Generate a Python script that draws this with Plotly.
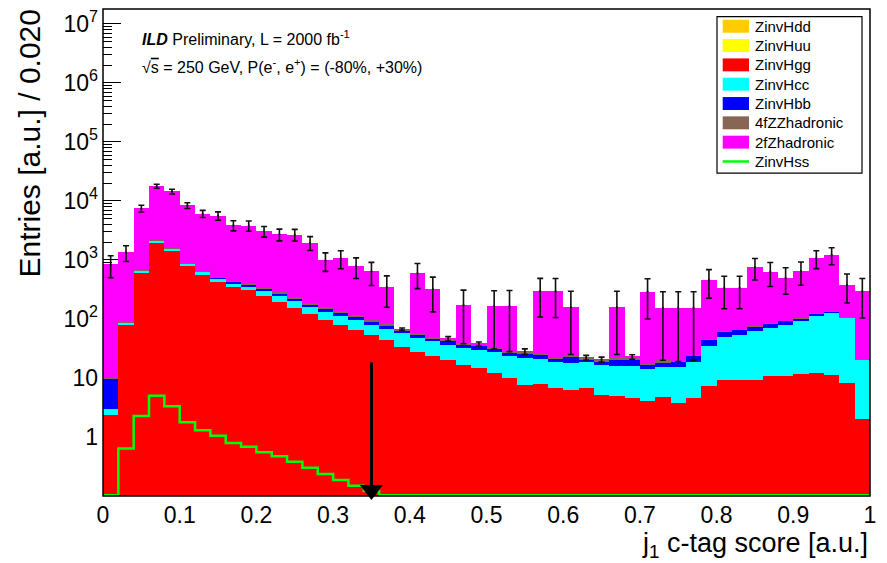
import numpy as np
import plotly.graph_objects as go

# ---------------- data (50 bins, width 0.02, x from 0 to 1) ----------------
X_MIN, X_MAX, N_BINS = 0.0, 1.0, 50

hdd = [0.001, 0.004, 0.02, 0.03, 0.025, 0.02, 0.015, 0.012, 0.01, 0.009,
       0.008, 0.007, 0.006, 0.005, 0.004, 0.004, 0.003, 0.003, 0.002, 0.002,
       0.002, 0.002, 0.001, 0.001, 0.001, 0.001, 0.001, 0.001, 0.001, 0.001,
       0.001, 0.001, 0.001, 0.001, 0.001, 0.001, 0.001, 0.001, 0.001, 0.001,
       0.001, 0.001, 0.001, 0.001, 0.001, 0.001, 0.001, 0.001, 0.001, 0.001]
huu = [0.001, 0.005, 0.025, 0.04, 0.03, 0.025, 0.02, 0.015, 0.012, 0.01,
       0.009, 0.008, 0.007, 0.006, 0.005, 0.005, 0.004, 0.003, 0.003, 0.002,
       0.002, 0.002, 0.002, 0.001, 0.001, 0.001, 0.001, 0.001, 0.001, 0.001,
       0.001, 0.001, 0.001, 0.001, 0.001, 0.001, 0.001, 0.001, 0.001, 0.001,
       0.001, 0.001, 0.001, 0.001, 0.001, 0.001, 0.001, 0.001, 0.001, 0.001]
hgg = [2.4, 82, 606, 1945, 1425, 786, 561, 428, 348, 306,
       242, 197, 156, 120, 97, 80, 66, 54, 44, 34,
       28, 23.6, 20.2, 16.8, 14.8, 12.1, 9.9, 7.7, 7.95, 6.7,
       6.3, 6.7, 5.05, 4.9, 4.55, 4.05, 4.7, 3.8, 4.6, 7.4,
       9.1, 9.1, 9.2, 10.6, 10.6, 11.7, 12.3, 11.4, 8.1, 2.04]
hcc = [0.6, 4, 58, 185, 138, 75, 70, 59, 58, 55,
       56, 48, 46, 40, 35, 33, 31, 26, 24, 23,
       20.5, 18, 16.4, 15.8, 15.3, 15, 14, 13.8, 13, 12,
       11.9, 12, 11.75, 11.3, 11.65, 10.15, 10.4, 11.3, 13.8, 27.8,
       40.8, 44.1, 52.2, 60.2, 67.9, 83.6, 101.7, 115.6, 97.9, 18.2]
hbb = [6.7, 1.5, 8, 20, 22, 18, 14, 25, 21, 25,
       24, 20, 19, 11, 14, 12, 12, 10, 10, 6,
       5.5, 5.4, 5, 5, 5, 4.5, 3.6, 4, 4.1, 2.3,
       4.8, 1.7, 2.1, 4.2, 4, 2.4, 2.6, 3.8, 5.2, 9.8,
       11.5, 13.2, 14.1, 14.1, 14.4, 7.7, 10, 8, 1, 0.3]
zz4f = [0.1, 6, 12, 30, 35, 21, 15, 8, 20, 15,
        17, 19, 13, 15, 12, 12, 8, 7, 6, 4,
        3, 3, 4.4, 1.9, 2.5, 0.9, 0.5, 2.4, 0.5, 0.5,
        0.5, 1.6, 1.5, 2.6, 2.4, 0.5, 2.5, 0.5, 0.5, 1,
        1, 1, 1, 1, 1, 1.5, 1.5, 2, 1, 0.5]
z2f = [830, 1246, 6796, 15620, 12880, 7500, 5420, 5100, 3413, 3419,
       2721, 2436, 2466, 1784, 822, 933, 669, 543, 264, 0.3,
       543, 272, 0.2, 133.5, 0.2, 133.5, 138, 0.2, 272.5, 274.5,
       136.5, 0.2, 0.2, 137, 0.2, 273, 134.8, 134.6, 131, 410,
       276.6, 271.6, 680.5, 544, 406, 542.5, 946.5, 1083, 274, 273]
total_err = [340, 400, 1000, 1400, 1300, 950, 850, 900, 750, 750,
             620, 610, 600, 520, 340, 360, 300, 270, 190, 3,
             273, 190, 4, 135, 3, 135, 138, 3, 190, 190,
             135, 2, 2, 135, 2, 190, 135, 135, 135, 230,
             190, 190, 300, 275, 237, 275, 360, 390, 195, 190]
hss = [0, 0.64, 2.26, 4.99, 3.33, 1.77, 1.30, 1.05, 0.79, 0.68,
       0.55, 0.47, 0.38, 0.30, 0.235, 0.186, 0.149, 0.121, 0, 0,
       0, 0, 0, 0, 0, 0, 0, 0, 0, 0,
       0, 0, 0, 0, 0, 0, 0, 0, 0, 0,
       0, 0, 0, 0, 0, 0, 0, 0, 0, 0]

CUT_VALUE = 0.35       # selection cut shown by the arrow
ARROW_TOP = 18.4       # arrow start (entries)

names = ["ZinvHdd", "ZinvHuu", "ZinvHgg", "ZinvHcc", "ZinvHbb", "4fZZhadronic", "2fZhadronic"]
colors = ["#ffcc00", "#ffff00", "#ff0000", "#00ffff", "#0000ff", "#876656", "#ff00ff"]
stack = [hdd, huu, hgg, hcc, hbb, zz4f, z2f]
HSS_NAME, HSS_COLOR = "ZinvHss", "#00ff00"

YMIN_LOG, YMAX_LOG = -1.0, 7.253
FONT = "Liberation Sans, Arial, Helvetica, sans-serif"

# figure geometry (pixels)
W, H = 887, 563
ML, MR, MT, MB = 103, 17, 7, 67
PW, PH = W - ML - MR, H - MT - MB


def px(x):   # pixel x -> paper
    return (x - ML) / PW


def py(y):   # pixel y -> paper
    return (H - MB - y) / PH


# ---------------- build ----------------
edges = np.linspace(X_MIN, X_MAX, N_BINS + 1)
centers = 0.5 * (edges[:-1] + edges[1:])
width = edges[1] - edges[0]
total = np.sum(np.array(stack, dtype=float), axis=0)

fig = go.Figure()
for name, col, vals in zip(names, colors, stack):
    fig.add_trace(go.Bar(x=centers, y=vals, width=width, name=name, showlegend=False,
                         marker=dict(color=col, line=dict(width=0))))

floor = 10 ** (YMIN_LOG + 0.012)
hss_arr = np.clip(np.array(hss, dtype=float), floor, None)
sx = np.repeat(edges, 2)[1:-1]
sy = np.repeat(hss_arr, 2)
fig.add_trace(go.Scatter(x=sx, y=sy, mode="lines", name=HSS_NAME, showlegend=False,
                         line=dict(color=HSS_COLOR, width=2.5)))

fig.add_trace(go.Scatter(x=centers, y=total, mode="markers", showlegend=False,
                         marker=dict(size=2, color="#111111"),
                         error_y=dict(type="data", array=total_err, color="#111111",
                                      thickness=1.6, width=3)))

fig.add_trace(go.Scatter(x=[CUT_VALUE, CUT_VALUE], y=[ARROW_TOP, floor], mode="lines",
                         showlegend=False, line=dict(color="black", width=3)))
fig.add_trace(go.Scatter(x=[CUT_VALUE], y=[10 ** (YMIN_LOG + 0.1)], mode="markers",
                         showlegend=False, cliponaxis=False,
                         marker=dict(symbol="triangle-down", size=20, color="black")))

ytickvals = [10 ** k for k in range(0, 8)]
yticktext = ["1", "10"] + ["10<sup>%d</sup>" % k for k in range(2, 8)]
minor_vals = [m * 10 ** k for k in range(-1, 8) for m in range(2, 10)]

# ---------------- legend (ROOT-style box) ----------------
LEG_X0, LEG_X1, LEG_Y0, LEG_Y1 = 717, 862, 14.7, 171.7
ROW0, ROW_STEP = 24.3, 19.4
SW_X0, SW_X1, SW_H, TXT_X = 722.7, 749, 13, 753

shapes = [dict(type="rect", xref="paper", yref="paper", x0=0, x1=1, y0=0, y1=1,
               line=dict(color="black", width=1.5), layer="above"),
          dict(type="rect", xref="paper", yref="paper", x0=px(LEG_X0), x1=px(LEG_X1),
               y0=py(LEG_Y1), y1=py(LEG_Y0), fillcolor="white",
               line=dict(color="black", width=1.2), layer="above")]
annotations = []
leg_entries = list(zip(names, colors)) + [(HSS_NAME, HSS_COLOR)]
for i, (name, col) in enumerate(leg_entries):
    yc = ROW0 + i * ROW_STEP
    if name == HSS_NAME:
        shapes.append(dict(type="line", xref="paper", yref="paper", x0=px(SW_X0), x1=px(SW_X1),
                           y0=py(yc), y1=py(yc), line=dict(color=col, width=2.5), layer="above"))
    else:
        shapes.append(dict(type="rect", xref="paper", yref="paper", x0=px(SW_X0), x1=px(SW_X1),
                           y0=py(yc + SW_H / 2), y1=py(yc - SW_H / 2), fillcolor=col,
                           line=dict(width=0), layer="above"))
    annotations.append(dict(xref="paper", yref="paper", x=px(TXT_X), y=py(yc), xanchor="left",
                            yanchor="middle", showarrow=False, text=name,
                            font=dict(size=15, family=FONT)))

annotations += [
    dict(xref="paper", yref="paper", x=px(30), y=py(5), xanchor="center",
         yanchor="top", textangle=-90, showarrow=False,
         text="Entries [a.u.] / 0.020", font=dict(size=30)),
    dict(xref="paper", yref="paper", x=px(870), y=py(545), xanchor="right",
         yanchor="middle", showarrow=False,
         text="j<sub>1</sub> c-tag score [a.u.]", font=dict(size=27)),
    dict(xref="paper", yref="paper", x=px(140), y=py(36), xanchor="left",
         yanchor="middle", showarrow=False,
         text="<b><i>ILD</i></b> Preliminary, L = 2000 fb<sup>-1</sup>",
         font=dict(size=16)),
    dict(xref="paper", yref="paper", x=px(140), y=py(64), xanchor="left",
         yanchor="middle", showarrow=False,
         text="√<span style='text-decoration:overline'>s</span> = 250 GeV, "
              "P(e<sup>-</sup>, e<sup>+</sup>) = (-80%, +30%)",
         font=dict(size=16)),
]

fig.update_layout(
    width=W, height=H,
    margin=dict(l=ML, r=MR, t=MT, b=MB),
    paper_bgcolor="white", plot_bgcolor="white",
    barmode="stack", bargap=0,
    font=dict(family=FONT, color="black"),
    showlegend=False,
    xaxis=dict(range=[X_MIN, X_MAX], dtick=0.1, tick0=0, ticks="inside", ticklen=14,
               tickcolor="black", showgrid=False, zeroline=False, showline=False,
               tickfont=dict(size=23), layer="below traces", ticklabelstandoff=3,
               minor=dict(dtick=0.02, ticks="inside", ticklen=7, tickcolor="black")),
    yaxis=dict(type="log", range=[YMIN_LOG, YMAX_LOG], tickvals=ytickvals,
               ticktext=yticktext, ticks="inside", ticklen=18, tickcolor="black",
               showgrid=False, zeroline=False, showline=False,
               tickfont=dict(size=23), layer="below traces", ticklabelstandoff=4,
               minor=dict(tickvals=minor_vals, ticks="inside", ticklen=9,
                          tickcolor="black")),
    shapes=shapes,
    annotations=annotations,
)

fig.write_html("out.html")
